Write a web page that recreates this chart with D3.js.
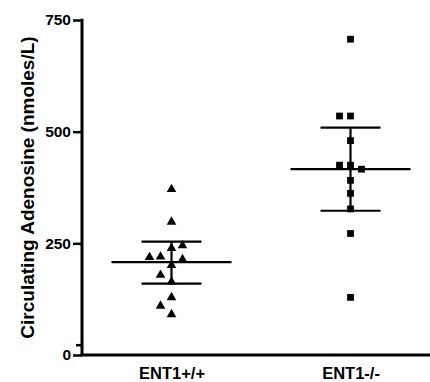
<!DOCTYPE html>
<html>
<head>
<meta charset="utf-8">
<script src="https://cdn.jsdelivr.net/npm/d3@7"></script>
<style>
    body { margin: 0; background: #fff; }
    text { font-family: "Liberation Sans", Arial, sans-serif; font-weight: bold; fill: #000; }
</style>
</head>
<body>
<script>
// groups shown on the x axis
var groups = ["ENT1+/+", "ENT1-/-"];

var wildType = [371, 298, 239, 220, 245, 214, 219, 201, 164, 179, 91, 129, 110];
var knockOut = [707, 535, 535, 480, 425, 425, 416, 391, 362, 327, 272, 129];

// mean and 95% CI for each group
var means = [208, 416];
var lower = [160, 323];
var upper = [254, 509];

var yTicks = [0, 250, 500, 750];

window.onload = function() {

    const width = 430, height = 382;
    const margins = {top: 20, left: 82, bottom: 27};

    var svg = d3.select("body").append("svg")
        .attr("width", width)
        .attr("height", height);

    var xScale = d3.scalePoint().domain(groups).range([margins.left, 440]).padding(0.5);
    var yScale = d3.scaleLinear().domain([0, 750]).range([height - margins.bottom, margins.top]);

    // y axis
    var yAxis = svg.append("g")
        .attr("transform", "translate(" + margins.left + ",0)")
        .call(d3.axisLeft(yScale).tickValues(yTicks).tickSize(9).tickPadding(2));
    yAxis.select(".domain").remove();
    yAxis.selectAll(".tick line").attr("stroke", "#000").attr("stroke-width", 2.5);
    yAxis.selectAll(".tick text").style("font-size", "15.5px");
    yAxis.append("line")
        .attr("y1", yScale(750) - 1.2).attr("y2", yScale(0))
        .attr("stroke", "#000").attr("stroke-width", 3);
    // small extra tick just above the baseline
    yAxis.append("line")
        .attr("x1", -6).attr("x2", 0)
        .attr("y1", yScale(22)).attr("y2", yScale(22))
        .attr("stroke", "#000").attr("stroke-width", 2.5);

    // x axis
    var xAxis = svg.append("g")
        .attr("transform", "translate(0," + yScale(0) + ")")
        .call(d3.axisBottom(xScale).tickSize(0).tickPadding(12));
    xAxis.select(".domain").remove();
    xAxis.append("line")
        .attr("x1", margins.left - 1.5).attr("x2", 440)
        .attr("stroke", "#000").attr("stroke-width", 3);
    xAxis.selectAll(".tick text").style("font-size", "16.5px");

    // axis title
    svg.append("text")
        .attr("transform", "translate(34," + ((yScale(0) + yScale(750)) / 2) + ") rotate(-90)")
        .attr("text-anchor", "middle")
        .style("font-size", "19px")
        .text("Circulating Adenosine (nmoles/L)");

    // place the points of one column side by side where they would overlap
    var slotWidth = 11, overlap = 12;
    var slotOrder = [0, -1, 1, -2, 2, -3, 3];
    function dodge(values) {
        var placed = [];
        values.forEach(function(v) {
            var y = yScale(v);
            var slot = slotOrder.find(function(s) {
                return placed.every(function(p) {
                    return p.slot !== s || Math.abs(p.y - y) >= overlap;
                });
            });
            placed.push({value: v, y: y, slot: slot});
        });
        return placed;
    }

    var series = [
        {name: groups[0], values: wildType, symbol: d3.symbolTriangle, size: 40},
        {name: groups[1], values: knockOut, symbol: d3.symbolSquare, size: 46}
    ];

    series.forEach(function(s) {
        var cx = xScale(s.name);
        svg.append("g").selectAll("path")
            .data(dodge(s.values))
            .enter().append("path")
            .attr("d", d3.symbol().type(s.symbol).size(s.size))
            .attr("transform", function(d) {
                return "translate(" + (cx + d.slot * slotWidth) + "," + d.y + ")";
            })
            .attr("fill", "#000");
    });

    // mean with 95% CI
    var bars = svg.append("g").attr("stroke", "#000").attr("stroke-width", 2.2);
    groups.forEach(function(g, i) {
        var cx = xScale(g);
        bars.append("line")
            .attr("x1", cx - 60).attr("x2", cx + 60)
            .attr("y1", yScale(means[i])).attr("y2", yScale(means[i]));
        bars.append("line")
            .attr("x1", cx).attr("x2", cx)
            .attr("y1", yScale(lower[i])).attr("y2", yScale(upper[i]));
        [lower[i], upper[i]].forEach(function(v) {
            bars.append("line")
                .attr("x1", cx - 30).attr("x2", cx + 30)
                .attr("y1", yScale(v)).attr("y2", yScale(v));
        });
    });
};
</script>
</body>
</html>
